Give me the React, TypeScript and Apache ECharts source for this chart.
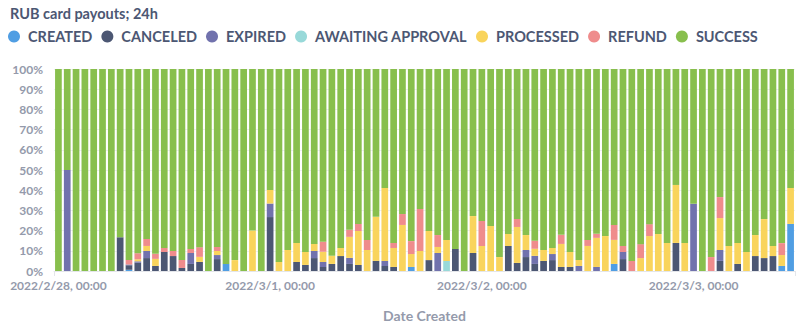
import React, { useEffect, useRef } from "react";
import * as echarts from "echarts";

const title = "RUB card payouts; 24h";
const seriesNames = ["CREATED", "CANCELED", "EXPIRED", "AWAITING APPROVAL", "PROCESSED", "REFUND", "SUCCESS"];
const colors = ["#509EE3", "#4C5773", "#7172AD", "#98D9D9", "#F9D45C", "#EF8C8C", "#88BF4D"];
const days = ["2022/2/28", "2022/3/1", "2022/3/2", "2022/3/3"];
const hourCount = 84;
const yTicks = [0, 10, 20, 30, 40, 50, 60, 70, 80, 90, 100];

const created = [0,0,0,0,0,0,0,0,0.6,0,0,0,0,0,0,0,0,0,0,3.5,0,0,0,0,0,0,0,0,0,0,0,0,0,0,0,0,0,0,0,0,2.0,0,0,0,0,0,0,0,0,0,0,0,0,0,0,0,0,0,0,0,0,0,0,3.5,0,0,0,0,0,0,0,0,0,0,0,0,0,0,0,0,0,0,2.5,23.3];
const canceled = [0,0,0,0,0,0,0,16.7,2.2,4.1,6.4,2.5,9.4,7.4,1.5,3.5,4.5,0,5.9,0,0,0,0,0,26.7,0,0,4.5,3.0,6.4,2.0,3.5,7.4,3.5,3.0,0,5.0,2.5,2.0,0,0,0,5.4,0,0,10.9,0,8.9,0,0,0,12.4,4.0,6.9,3.5,5.0,5.4,2.0,2.0,0,0,0,0,0,5.9,0,0,0,0,0,13.9,0,0,0,0,5.0,0,3.5,0,7.4,6.4,7.4,0,0];
const expired = [0,50,0,0,0,0,0,0,0.4,0.7,3.5,0,0,0,0,5.4,0,0,2.0,0,0,0,0,0,6.7,0,0,0,0,3.5,2.5,0,0,3.0,0,0,0,2.5,0,0,0,0,0,8.9,0,0,0,0,0,0,0,0,0,3.5,4.0,0,3.0,0,0,2.5,0,2.0,0,0,3.5,0,0,0,0,0,0,0,33.3,0,0,5.4,0,0,0,0,0,0,0,0];
const awaiting = [0,0,0,0,0,0,0,0,0,0,0,0,0,0,0,0,0,0,0,0,0,0,0,0,0,0,0,0,0,0,0,0,0,0,0,0,0,0,0,0,0,0,0,0,5.0,0,0,0,0,0,0,0,0,0,0,0,0,0,0,0,0,0,0,0,0,0,0,0,0,0,0,0,0,0,0,0,0,0,0,0,0,0,0,0];
const processed = [0,0,0,0,0,0,0,0,0,1.0,2.5,3.5,0,0,0,0,2.5,0,2.0,0,5.4,0,20.0,0,6.7,4.5,10.4,9.4,6.4,3.5,5.0,4.0,4.0,10.4,16.8,10.4,21.8,36.1,9.4,22.8,6.4,9.9,14.4,3.0,10.4,0,0,18.3,12.4,22.3,6.9,5.9,17.8,7.4,3.5,5.4,3.0,11.4,7.4,3.0,12.4,14.4,17.3,11.9,0,0,6.4,17.3,18.3,13.9,28.7,13.9,0,0,0,15.8,12.4,10.4,9.4,10.4,19.3,5.0,5.4,17.8];
const refund = [0,0,0,0,0,0,0,0,2.2,3.0,3.5,2.5,2.0,2.5,4.0,2.0,4.8,0,2.0,0,0,0,0,0,0,0,0,0,0,0,5.0,0,0,3.5,3.5,5.0,0,0,2.5,5.4,6.4,20.8,0,5.9,0,0,0,0,12.4,0,0,0,4.0,0,4.0,0,0,4.5,0,0,3.0,2.0,0,7.4,3.0,5.0,6.9,5.9,0,0,0,0,0,0,6.9,10.4,0,0,0,0,0,0,5.9,0];
const success = [100,50,100,100,100,100,100,83.3,94.6,91.2,84.1,91.5,88.6,90.1,94.5,89.1,88.2,100,88.1,96.5,94.6,100,80.0,100,60.0,95.5,89.6,86.1,90.6,86.6,85.5,92.5,88.6,79.6,76.7,84.6,73.2,58.9,86.1,71.8,85.2,69.3,80.2,82.2,84.6,89.1,100,72.8,75.2,77.7,93.1,81.7,74.2,82.2,85.0,89.6,88.6,82.1,90.6,94.5,84.6,81.6,82.7,77.2,87.6,95.0,86.7,76.8,81.7,86.1,57.4,86.1,66.7,100,93.1,63.4,87.6,86.1,90.6,82.2,74.3,87.6,86.2,58.9];

const seriesData = [created, canceled, expired, awaiting, processed, refund, success];

function buildCategories(): string[] {
  const out: string[] = [];
  for (let i = 0; i < hourCount; i++) {
    const d = days[Math.floor(i / 24)];
    const h = i % 24;
    out.push(`${d}, ${h < 10 ? "0" + h : h}:00`);
  }
  return out;
}

const FONT = "Lato, 'Noto Sans', sans-serif";

export default function App() {
  const ref = useRef<HTMLDivElement>(null);
  useEffect(() => {
    if (!ref.current) return;
    document.body.style.margin = "0";
    const chart = echarts.init(ref.current, undefined, { renderer: "svg" });
    const categories = buildCategories();
    chart.setOption({
      animation: false,
      textStyle: { fontFamily: FONT },
      title: {
        text: title,
        left: 10,
        top: 6,
        padding: 0,
        textStyle: { fontFamily: FONT, fontSize: 14.5, fontWeight: "bold", color: "#4C5773" },
      },
      legend: {
        left: 8,
        top: 29,
        padding: 0,
        icon: "circle",
        itemWidth: 18,
        itemHeight: 12,
        itemGap: 9,
        data: seriesNames,
        textStyle: { fontFamily: FONT, fontSize: 14.5, fontWeight: "bold", color: "#4C5773" },
      },
      grid: { left: 54, right: 12, top: 69, bottom: 56, containLabel: false },
      xAxis: {
        type: "category",
        data: categories,
        name: "Date Created",
        nameLocation: "middle",
        nameGap: 37,
        nameTextStyle: { fontFamily: FONT, fontSize: 14, fontWeight: "bold", color: "#949AAB" },
        axisLine: { show: true, lineStyle: { color: "#E4E6EA" } },
        axisTick: { show: true, interval: 200, length: 5, lineStyle: { color: "#E4E6EA" } },
        axisLabel: {
          interval: 23,
          margin: 8,
          fontFamily: FONT,
          fontSize: 12,
          fontWeight: "bold",
          color: "#949AAB",
        },
      },
      yAxis: {
        type: "value",
        min: 0,
        max: 100,
        interval: 10,
        axisLine: { show: false },
        axisTick: { show: false },
        splitLine: { show: true, lineStyle: { color: "#EEF0F3", width: 1 } },
        axisLabel: {
          margin: 11,
          fontFamily: FONT,
          fontSize: 12,
          fontWeight: "bold",
          color: "#949AAB",
          formatter: (v: number) => (yTicks.includes(v) ? `${v}%` : ""),
        },
      },
      series: seriesNames.map((name, k) => ({
        name,
        type: "bar",
        stack: "total",
        barCategoryGap: "24%",
        itemStyle: { color: colors[k] },
        emphasis: { disabled: true },
        data: seriesData[k],
      })),
    });
    return () => chart.dispose();
  }, []);
  return <div ref={ref} style={{ position: "absolute", left: 0, top: 0, width: 807, height: 327 }} />;
}
